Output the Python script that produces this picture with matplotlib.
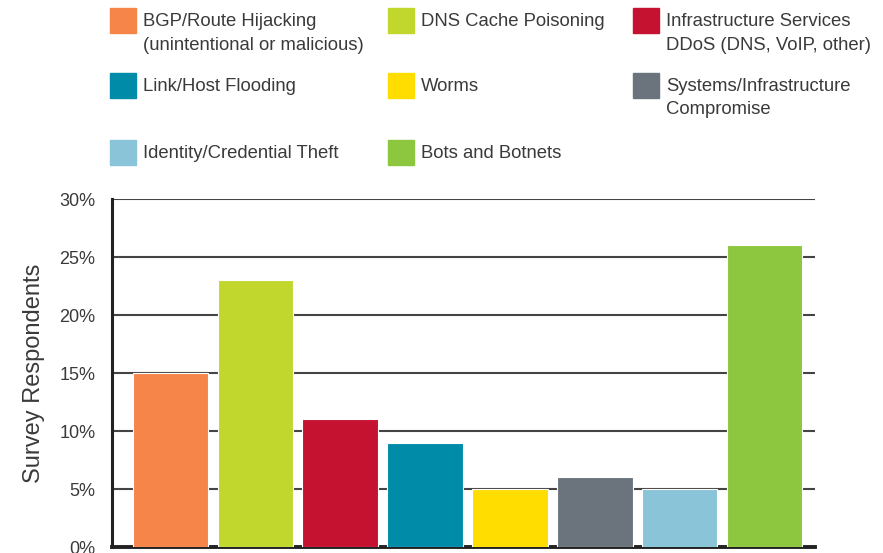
import matplotlib
matplotlib.use("Agg")
import matplotlib.pyplot as plt
from matplotlib.patches import Rectangle

categories = [
    "BGP/Route Hijacking\n(unintentional or malicious)",
    "DNS Cache Poisoning",
    "Infrastructure Services\nDDoS (DNS, VoIP, other)",
    "Link/Host Flooding",
    "Worms",
    "Systems/Infrastructure\nCompromise",
    "Identity/Credential Theft",
    "Bots and Botnets",
]
values = [15, 23, 11, 9, 5, 6, 5, 26]
colors = ["#F58549", "#C1D72E", "#C41230", "#008BA8",
          "#FFDD00", "#6B747C", "#89C4D8", "#8DC63F"]
yticks = [0, 5, 10, 15, 20, 25, 30]

plt.rcParams["font.family"] = ["Liberation Sans", "DejaVu Sans"]
text_color = "#3a3a3a"

fig = plt.figure(figsize=(8.83, 5.53), dpi=100)
ax = fig.add_axes([0.1268, 0.0108, 0.7962, 0.6292])

x = list(range(len(values)))
ax.bar(x, values, width=0.89, color=colors, edgecolor="white", linewidth=0.8, zorder=3)

ax.set_xlim(-0.69, len(values) - 1 + 0.595)
ax.set_ylim(0, 30)
ax.set_yticks(yticks)
ax.set_yticklabels([f"{t}%" for t in yticks], fontsize=13, color=text_color)
ax.set_xticks([])
ax.tick_params(axis="y", length=0, pad=12)
ax.yaxis.grid(True, color="#444444", linewidth=1.5, zorder=0)
ax.set_axisbelow(True)

for s in ["top", "right"]:
    ax.spines[s].set_visible(False)
ax.spines["left"].set_linewidth(2.2)
ax.spines["bottom"].set_linewidth(2.8)
ax.spines["left"].set_color("#222222")
ax.spines["bottom"].set_color("#222222")

ax.set_ylabel("Survey Respondents", fontsize=17, color=text_color, labelpad=10)

# legend drawn by hand: 3 columns, row-major
W, H = 883, 553
col_x = [110, 388, 633]
row_y = [8, 73, 140]
for i, (lab, c) in enumerate(zip(categories, colors)):
    r, k = divmod(i, 3)
    x0, y0 = col_x[k], row_y[r]
    fig.patches.append(Rectangle((x0 / W, 1 - (y0 + 25) / H), 26 / W, 25 / H,
                                 transform=fig.transFigure, color=c))
    fig.text((x0 + 33) / W, 1 - (y0 + 5) / H, lab, fontsize=13.3, color=text_color,
             va="top", ha="left", linespacing=1.5)

fig.savefig("out.png", dpi=100)
